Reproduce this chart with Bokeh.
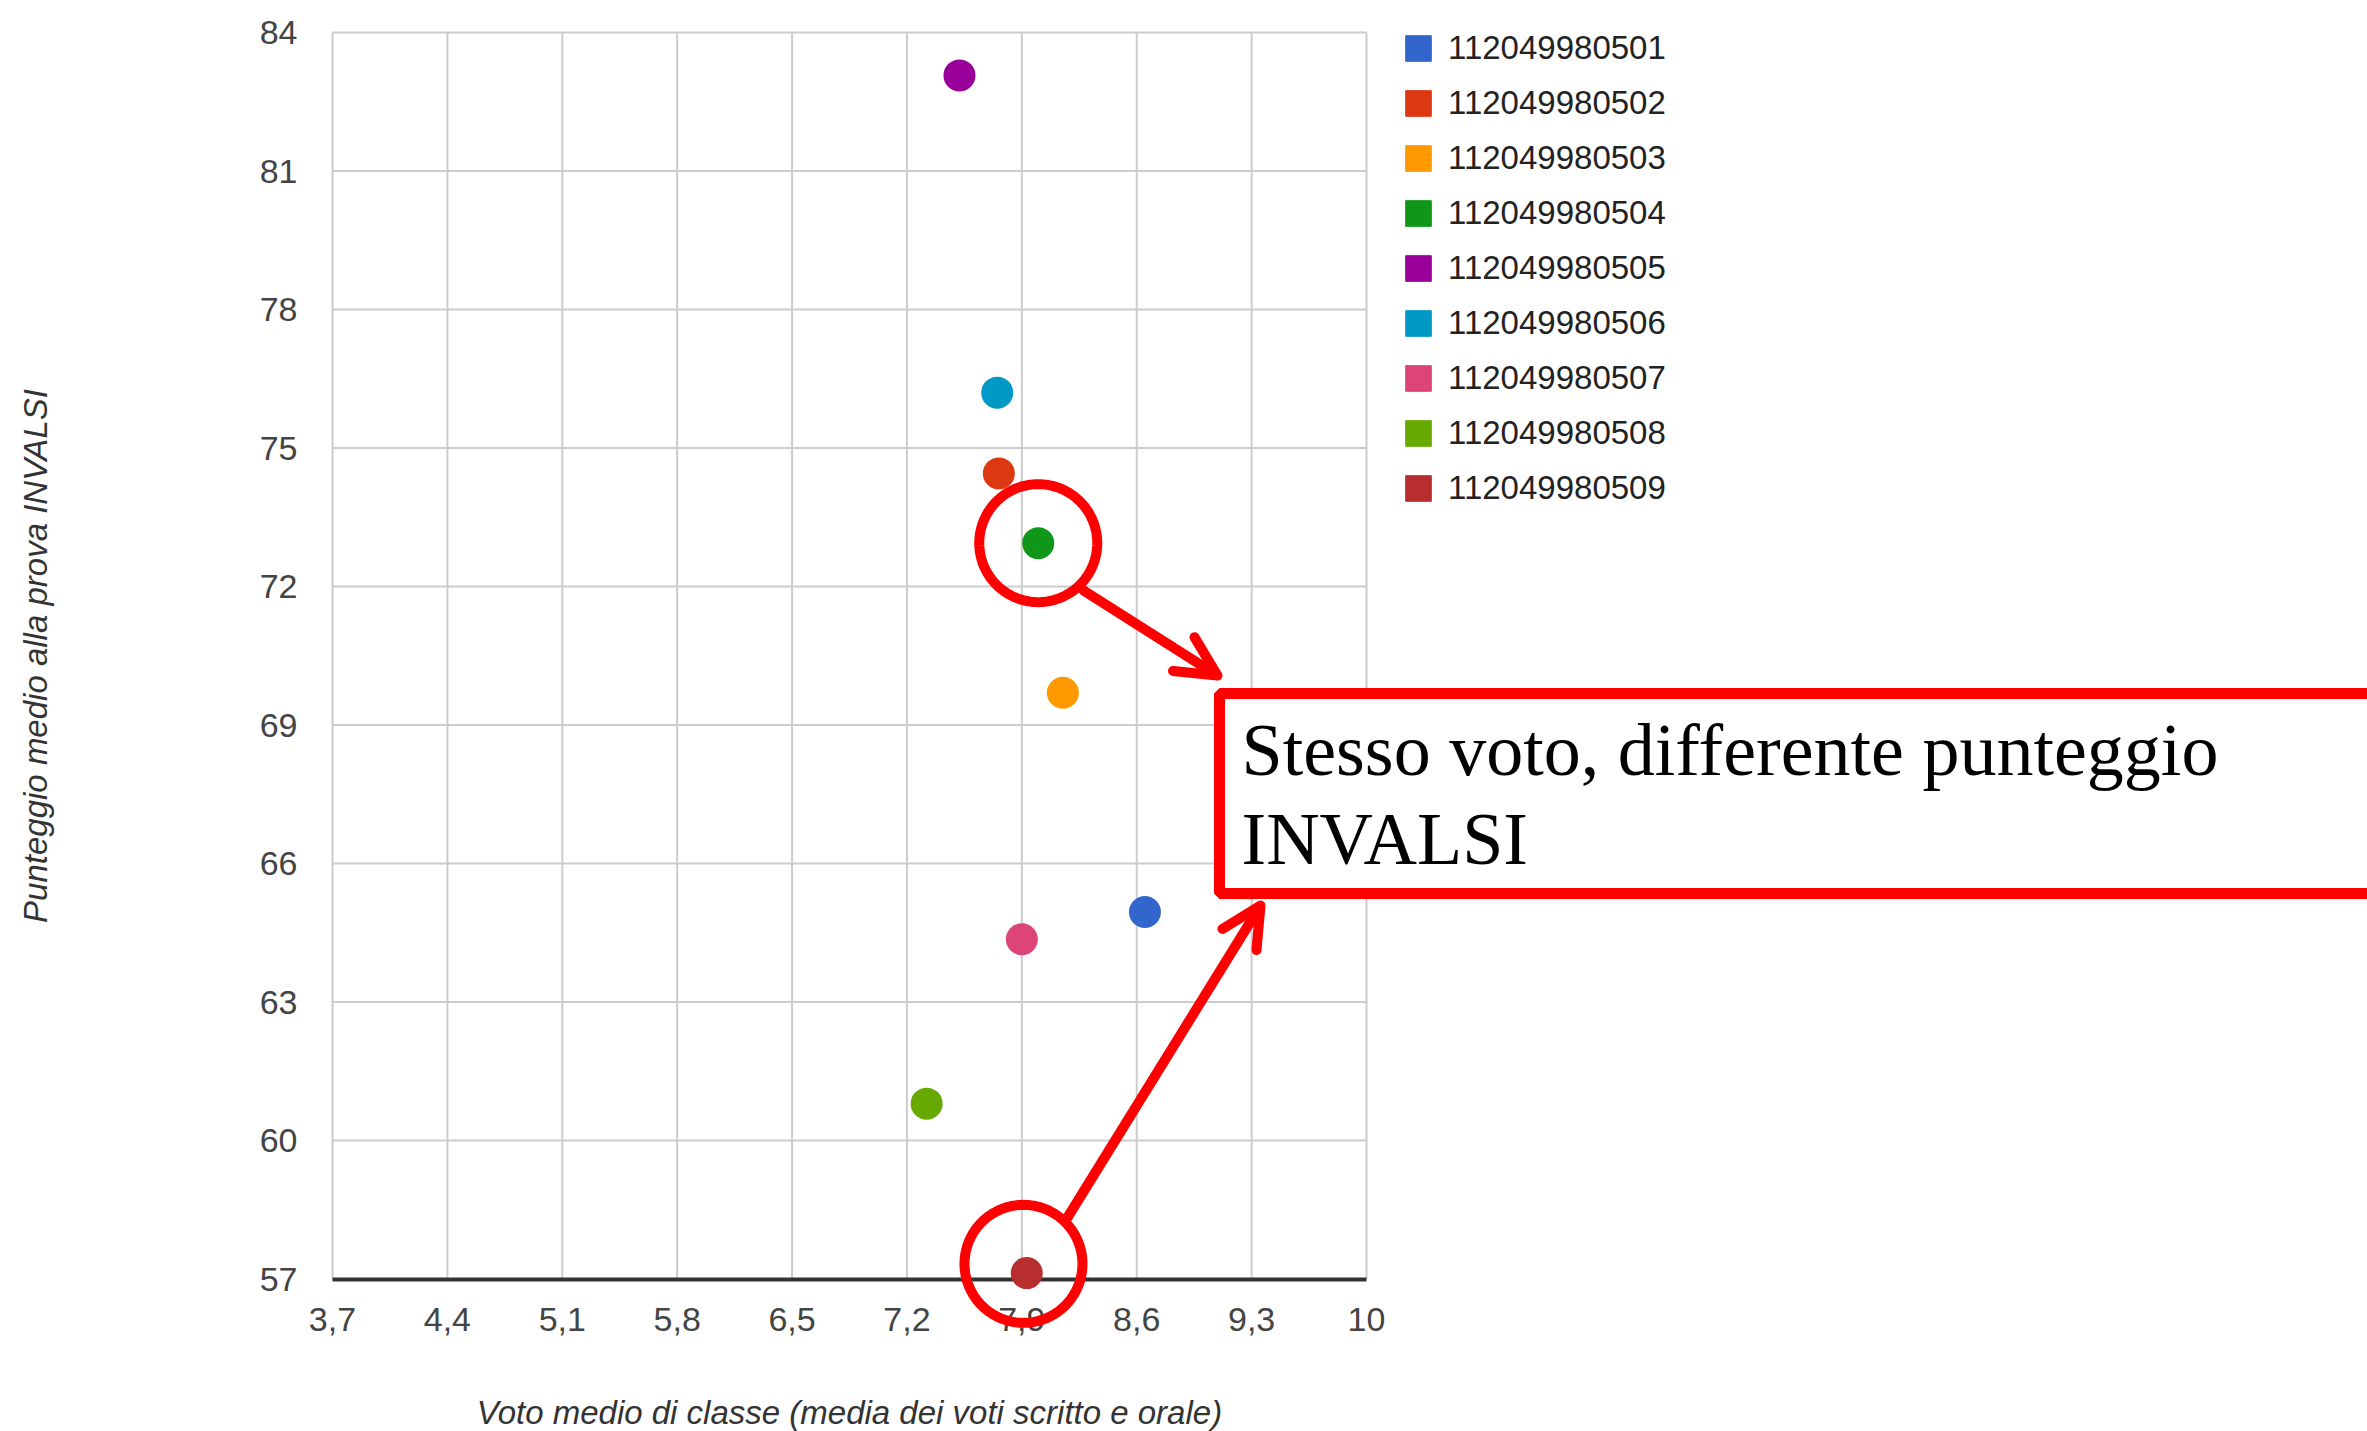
import numpy as np
from bokeh.plotting import figure
from bokeh.models import (Range1d, FixedTicker, Legend, LegendItem, ColumnDataSource,
                          BoxAnnotation, PolyAnnotation, Arrow, OpenHead, Label)
from bokeh.embed import file_html
from bokeh.resources import INLINE

# ---------------- data ----------------
classi = ["112049980501", "112049980502", "112049980503", "112049980504", "112049980505",
          "112049980506", "112049980507", "112049980508", "112049980509"]
voto = [8.65, 7.76, 8.15, 8.00, 7.52, 7.75, 7.90, 7.32, 7.93]
punteggio = [64.95, 74.45, 69.70, 72.94, 83.07, 76.20, 64.36, 60.80, 57.13]
colori = ["#3366cc", "#dc3912", "#ff9900", "#109618", "#990099",
          "#0099c6", "#dd4477", "#66aa00", "#b82e2e"]

x_ticks = [3.7, 4.4, 5.1, 5.8, 6.5, 7.2, 7.9, 8.6, 9.3, 10]
x_tick_labels = ["3,7", "4,4", "5,1", "5,8", "6,5", "7,2", "7,9", "8,6", "9,3", "10"]
y_ticks = [57, 60, 63, 66, 69, 72, 75, 78, 81, 84]
y_tick_labels = ["57", "60", "63", "66", "69", "72", "75", "78", "81", "84"]

x_title = "Voto medio di classe (media dei voti scritto e orale)"
y_title = "Punteggio medio alla prova INVALSI"
nota_righe = ["Stesso voto, differente punteggio", "INVALSI"]
evidenziati = ["112049980504", "112049980509"]
anello_offset = [(0.0, 0.0), (-0.02, 0.2)]   # small offsets of the red rings (data units)

FONT = "Liberation Sans"

# ---------------- layout geometry ----------------
W, H = 2367, 1431
FL, FT = 332, 32                 # position of the chart area (top-left) in page pixels
PLOT_W, PLOT_H = 1034, 1246.6    # size of the chart area (3.7..10 x 57..84)
xmin, xmax = x_ticks[0], x_ticks[-1]
ymin, ymax = y_ticks[0], y_ticks[-1]
px_x = PLOT_W / (xmax - xmin)
px_y = PLOT_H / (ymax - ymin)
# the frame covers the whole canvas so that nothing (legend, notes) gets clipped;
# the axes are fixed at the chart's edges
x_start = xmin - FL / px_x
x_end = xmin + (W - FL) / px_x
y_end = ymax + FT / px_y
y_start = ymin - (H - FT - PLOT_H) / px_y

p = figure(width=W, height=H, output_backend="svg", toolbar_location=None,
           x_range=Range1d(x_start, x_end), y_range=Range1d(y_start, y_end),
           min_border_left=0, min_border_right=0, min_border_top=0, min_border_bottom=0)
p.background_fill_color = "white"
p.border_fill_color = "white"
p.outline_line_color = None
p.grid.visible = False

p.xaxis.ticker = FixedTicker(ticks=x_ticks)
p.yaxis.ticker = FixedTicker(ticks=y_ticks)
p.xaxis.major_label_overrides = {t: l for t, l in zip(x_ticks, x_tick_labels)}
p.yaxis.major_label_overrides = {t: l for t, l in zip(y_ticks, y_tick_labels)}
p.xaxis.fixed_location = ymin
p.yaxis.fixed_location = xmin
p.xaxis.bounds = (xmin, xmax)
p.yaxis.bounds = (ymin, ymax)

for ax in (p.xaxis, p.yaxis):
    ax.major_tick_line_color = None
    ax.minor_tick_line_color = None
    ax.major_label_text_font = FONT
    ax.major_label_text_font_size = "34px"
    ax.major_label_text_color = "#444444"
    ax.axis_label_text_font = FONT
    ax.axis_label_text_font_size = "33px"
    ax.axis_label_text_font_style = "italic"
    ax.axis_label_text_color = "#333333"

p.xaxis.axis_line_color = "#333333"
p.xaxis.axis_line_width = 4
p.yaxis.axis_line_color = None
p.xaxis.major_label_standoff = 23
p.yaxis.major_label_standoff = 29
p.xaxis.axis_label = x_title
p.yaxis.axis_label = y_title
p.xaxis.axis_label_standoff = 59
p.yaxis.axis_label_standoff = 203

# grid lines of the chart area, drawn from the tick values
nx, ny = len(x_ticks), len(y_ticks)
p.segment(x0=x_ticks, y0=[ymin] * nx, x1=x_ticks, y1=[ymax] * nx,
          line_color="#cccccc", line_width=2)
p.segment(x0=[xmin] * ny, y0=y_ticks, x1=[xmax] * ny, y1=y_ticks,
          line_color="#cccccc", line_width=2)

# ---------------- points ----------------
src = ColumnDataSource(dict(x=voto, y=punteggio, c=colori, name=classi))
p.scatter("x", "y", source=src, size=32, fill_color="c", line_color="c", line_width=0,
          level="overlay")

# legend with square swatches (renderers without visible geometry)
items = []
for lab, col in zip(classi, colori):
    r = p.quad(left=np.array([np.nan]), right=np.array([np.nan]),
               top=np.array([np.nan]), bottom=np.array([np.nan]),
               fill_color=col, line_color=col)
    items.append(LegendItem(label=lab, renderers=[r]))
legend = Legend(items=items, location=(1402, 924), orientation="vertical",
                glyph_width=32, glyph_height=32, label_standoff=14, spacing=17,
                padding=0, margin=0, border_line_color=None, background_fill_alpha=0,
                label_text_font=FONT, label_text_font_size="33px", label_text_color="#222222")
p.add_layout(legend)

# ---------------- annotations ----------------
RED = "#ff0000"
theta = np.linspace(0, 2 * np.pi, 145)
rx, ry = 59 / px_x, 59 / px_y
for nm, (dx, dy) in zip(evidenziati, anello_offset):
    i = classi.index(nm)
    cx, cy = voto[i] + dx, punteggio[i] + dy
    p.add_layout(PolyAnnotation(xs=list(cx + rx * np.cos(theta)), ys=list(cy + ry * np.sin(theta)),
                                xs_units="data", ys_units="data", fill_alpha=0,
                                line_color=RED, line_alpha=1.0, line_width=10))

# red box (screen units, from the bottom-left corner of the canvas)
p.add_layout(BoxAnnotation(left=1219, right=2450, bottom=538, top=738,
                           left_units="screen", right_units="screen",
                           bottom_units="screen", top_units="screen",
                           fill_color="white", fill_alpha=1.0,
                           line_color=RED, line_alpha=1.0, line_width=11))

for (xs_, ys_, xe, ye) in [(1083, 841, 1217, 756), (1067, 214, 1260, 526)]:
    p.add_layout(Arrow(x_start=xs_, y_start=ys_, x_end=xe, y_end=ye,
                       start_units="screen", end_units="screen",
                       line_color=RED, line_width=10, line_cap="round",
                       end=OpenHead(size=40, line_color=RED, line_width=10, line_cap="round")))

for riga, yy in zip(nota_righe, [682, 593]):
    p.add_layout(Label(x=1241, y=yy, x_units="screen", y_units="screen", text=riga,
                       text_font="Liberation Serif", text_font_size="74px",
                       text_color="black", text_baseline="alphabetic"))

open("out.html", "w").write(file_html(p, INLINE))
